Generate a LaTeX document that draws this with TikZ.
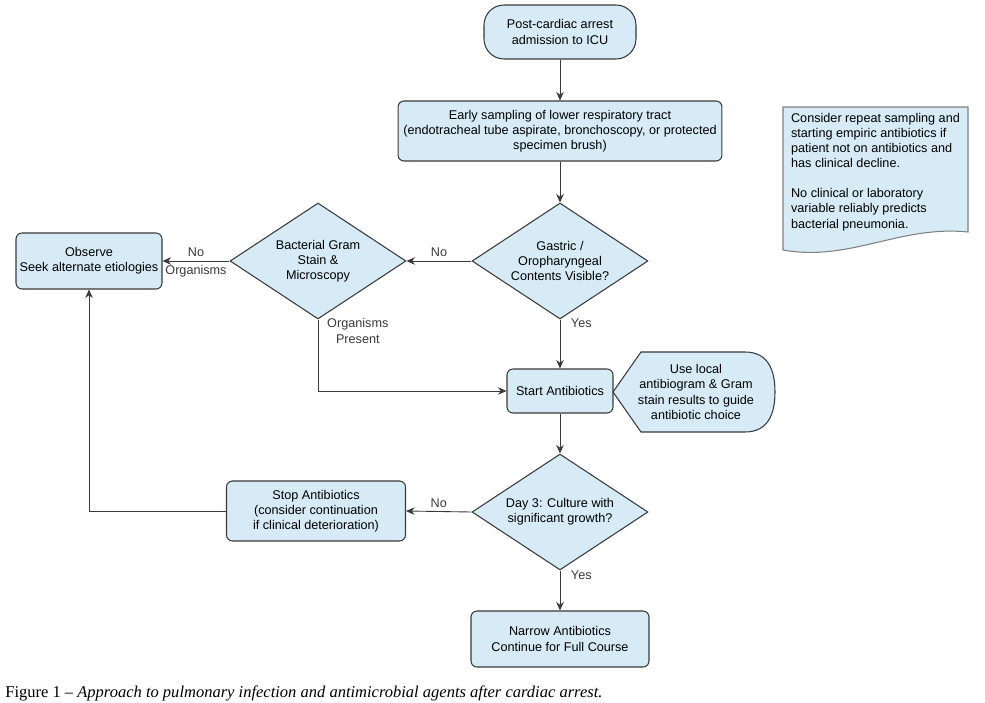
\documentclass[tikz,border=0pt]{standalone}
\usepackage{fontspec}
\setmainfont{Liberation Sans}
\newfontfamily\capfont{Liberation Serif}
\usetikzlibrary{arrows.meta,positioning,shapes.geometric}
\definecolor{boxc}{HTML}{D6EBF6}
\definecolor{linec}{HTML}{3A3A3A}
\newcommand{\fs}{\fontsize{7.2}{8.6}\selectfont}
\tikzset{
  ar/.style={-{Stealth[length=1.7mm,width=1.5mm]},line width=0.5pt,linec},
  bx/.style={rectangle,rounded corners=1.2mm,draw=linec,semithick,fill=boxc,align=center,font=\fs,inner sep=2pt},
  dm/.style={diamond,shape aspect=1.52,draw=linec,semithick,fill=boxc,align=center,font=\fs,minimum width=3.52cm,minimum height=2.32cm,inner sep=0pt},
  lb/.style={font=\fs,inner sep=1pt,align=center}
}

\begin{document}
\begin{tikzpicture}[x=0.02cm,y=-0.02cm]
\useasboundingbox[fill=white] (0,0) rectangle (985,703);
% main column
\node[bx,rounded corners=4mm,minimum width=3.04cm,minimum height=1.08cm] (adm) at (560,32) {Post-cardiac arrest\\admission to ICU};
\node[bx,minimum width=6.48cm,minimum height=1.2cm] (samp) at (560,131) {Early sampling of lower respiratory tract\\(endotracheal tube aspirate, bronchoscopy, or protected\\specimen brush)};
\node[dm] (gast) at (560,261) {Gastric /\\Oropharyngeal\\Contents Visible?};
\node[dm] (gram) at (318,261) {Bacterial Gram\\Stain \&\\Microscopy};
\node[bx,minimum width=2.92cm,minimum height=1.12cm] (obs) at (89,261) {Observe\\Seek alternate etiologies};
\node[bx,minimum width=2.12cm,minimum height=0.88cm] (abx) at (560,391) {Start Antibiotics};
\node[dm] (day3) at (560,512) {Day 3: Culture with\\significant growth?};
\node[bx,minimum width=3.58cm,minimum height=1.2cm] (stop) at (316,511) {Stop Antibiotics\\(consider continuation\\if clinical deterioration)};
\node[bx,minimum width=3.56cm,minimum height=1.12cm] (narr) at (560,639) {Narrow Antibiotics\\Continue for Full Course};
% side notes
\draw[linec,semithick,fill=boxc] (613,392) -- (641,352) -- (745,352) .. controls (768,352) and (775,370) .. (775,392) .. controls (775,414) and (768,432) .. (745,432) -- (641,432) -- cycle;
\node[lb] (guide) at (696,392) {Use local\\antibiogram \& Gram\\stain results to guide\\antibiotic choice};
\draw[gray,semithick,fill=boxc] (968,232) .. controls (900,225) and (850,262) .. (783,250) -- (783,107) -- (968,107) -- cycle;
\node[lb,align=left,anchor=north west] (note) at (789,111) {Consider repeat sampling and\\starting empiric antibiotics if\\patient not on antibiotics and\\has clinical decline.\\[8.6pt]No clinical or laboratory\\variable reliably predicts\\bacterial pneumonia.};
% connectors
\draw[ar] (adm) -- (samp);
\draw[ar] (samp) -- (gast);
\draw[ar] (gast.west) -- node[lb,above=1pt]{No} (gram.east);
\draw[ar] (gram.west) -- node[lb,above=1pt]{No} node[lb,below=1pt]{Organisms} (obs.east);
\draw[ar] (gast.south) -- node[lb,pos=0.08,right=5pt]{Yes} (abx.north);
\draw[ar] (gram.south) |- node[lb,pos=0.08,right=4pt]{Organisms\\Present} (abx.west);
\draw[ar] (abx) -- (day3);
\draw[ar] (day3.west) -- node[lb,above=1pt]{No} (stop.east);
\draw[ar] (stop.west) -| (obs.south);
\draw[ar] (day3.south) -- node[lb,pos=0.12,right=5pt]{Yes} (narr.north);
% caption
\node[anchor=base west,inner sep=0pt,font=\capfont\fontsize{9.4}{11}\selectfont] (cap) at (5,697) {Figure 1 – \textit{Approach to pulmonary infection and antimicrobial agents after cardiac arrest.}};
\end{tikzpicture}
\end{document}
